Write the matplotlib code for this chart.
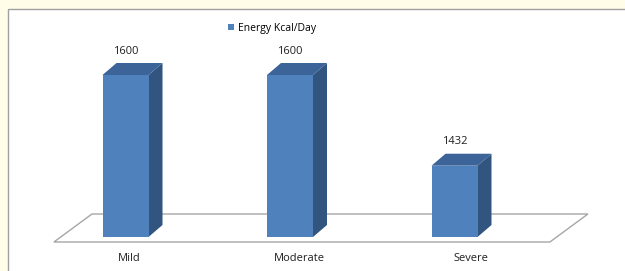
import numpy as np
import matplotlib.pyplot as plt
from matplotlib.patches import Polygon, Rectangle, Patch

categories = ['Mild', 'Moderate', 'Severe']
energy = [1600, 1600, 1432]
series_name = 'Energy Kcal/Day'

base = 1300          # value axis minimum (bars start here)
front = '#4F81BD'
top_c = '#3C6498'
side_c = '#32557F'

W, H = 625, 271
fig = plt.figure(figsize=(W / 100, H / 100), dpi=100)
fig.patch.set_facecolor('#FFFCE8')
# white chart panel with grey border
fig.patches.append(Rectangle((8 / W, -0.1), 1.2, 1 - 9 / H + 0.1,
                             transform=fig.transFigure, facecolor='white',
                             edgecolor='#A0A0A0', lw=1.0, zorder=-5))

ax = fig.add_axes([0, 0, 1, 1])
ax.set_facecolor('none')
ax.set_axis_off()
px_per_cat = 164.5
px_per_val = 0.54
ax.set_xlim(-125.5 / px_per_cat, (W - 125.5) / px_per_cat)
ax.set_ylim(base - (H - 237) / px_per_val, base + 237 / px_per_val)

bw = 46 / px_per_cat
dx = 14 / px_per_cat
dy = 12 / px_per_val

# floor
fdx = 38 / px_per_cat
fdy = 28 / px_per_val
fy = base - 5 / px_per_val
fl, fr = -0.435, 2.58
ax.add_patch(Polygon([(fl, fy), (fr, fy), (fr + fdx, fy + fdy), (fl + fdx, fy + fdy)],
                     closed=True, facecolor='white', edgecolor='#A6A6A6', lw=1.0))

x = np.arange(len(categories))
for xi, v in zip(x, energy):
    l, r = xi - bw / 2, xi + bw / 2
    ax.add_patch(Polygon([(r, base), (r + dx, base + dy), (r + dx, v + dy), (r, v)],
                         closed=True, facecolor=side_c, edgecolor='none'))
    ax.add_patch(Polygon([(l, v), (r, v), (r + dx, v + dy), (l + dx, v + dy)],
                         closed=True, facecolor=top_c, edgecolor='none'))
    ax.add_patch(Rectangle((l, base), bw, v - base, facecolor=front, edgecolor='none'))
    ax.text(xi, v + 24 / px_per_val, str(v), ha='center', va='center',
            fontsize=8, family='Open Sans', color='#202020')

for xi, c in zip(x, categories):
    ax.text(xi + 0.02 + 0.04 * xi, base - 22 / px_per_val, c, ha='center', va='center',
            fontsize=8, family='Open Sans', color='#202020')

fig.legend(handles=[Patch(facecolor=front, label=series_name)],
           loc='center', bbox_to_anchor=(272 / W, 1 - 28 / H), frameon=False,
           handlelength=0.6, handleheight=0.6, handletextpad=0.3,
           prop={'family': 'Open Sans', 'size': 7.5})

fig.savefig('out.png', dpi=100, facecolor=fig.get_facecolor())
